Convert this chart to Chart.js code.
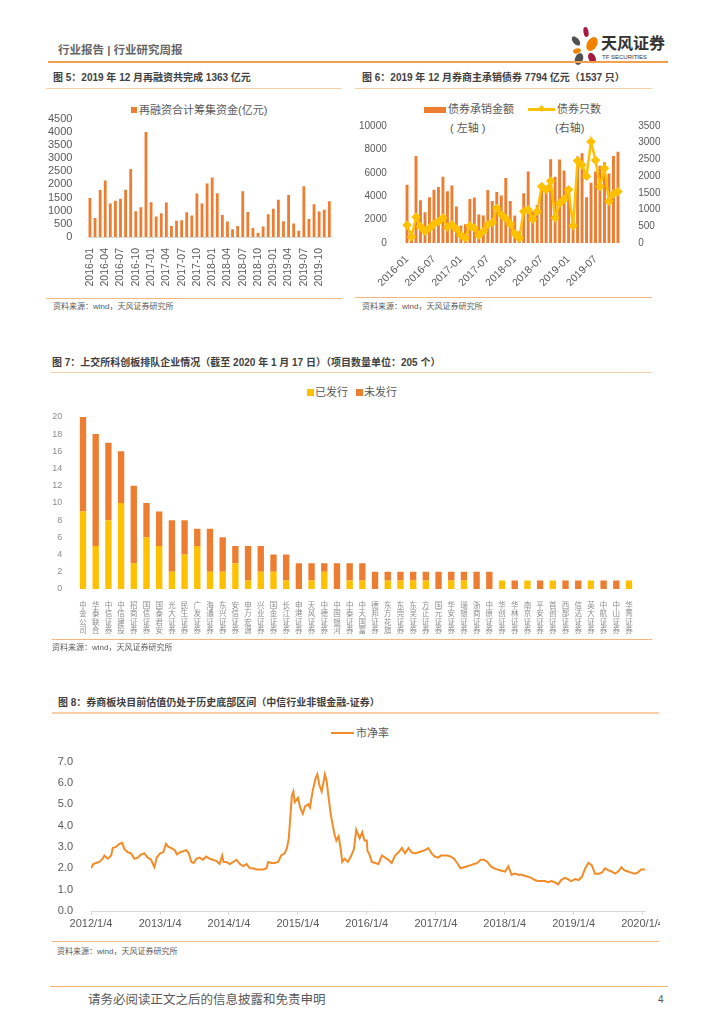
<!DOCTYPE html>
<html>
<head>
<meta charset="utf-8">
<script src="https://cdn.jsdelivr.net/npm/chart.js@4.4.1/dist/chart.umd.min.js"></script>
<style>
body { margin: 0; background: #fff; font-family: 'Liberation Sans', 'Noto Sans CJK SC', sans-serif; color: #595959; }
#page { position: relative; width: 724px; height: 1024px; overflow: hidden; }
.t { position: absolute; white-space: nowrap; }
.title { font-size: 10px; line-height: 10px; font-weight: bold; color: #404040; }
.src { font-size: 8px; line-height: 8px; color: #595959; }
.lg { font-size: 11px; line-height: 11px; color: #595959; }
.ul { position: absolute; height: 1.5px; background: #f9cfa8; }
.sl { position: absolute; height: 1px; background: #f6b67c; }
.box { position: absolute; }
.sq { position: absolute; }
</style>
</head>
<body>
<div id="page">

  <!-- page header -->
  <div class="t" style="left:58px;top:44px;font-size:11.5px;line-height:12px;font-weight:bold;color:#666">行业报告 | 行业研究周报</div>
  <svg style="position:absolute;left:568px;top:24px" width="34" height="42">
    <ellipse cx="18" cy="8" rx="2.5" ry="5" fill="#a7193f" transform="rotate(-10 18 8)"/>
    <ellipse cx="8" cy="17" rx="3" ry="5.5" fill="#505050" transform="rotate(-40 8 17)"/>
    <ellipse cx="24" cy="20" rx="5" ry="7.5" fill="#f08300" transform="rotate(30 24 20)"/>
    <ellipse cx="9" cy="27" rx="4" ry="2.5" fill="#f08300" transform="rotate(-15 9 27)"/>
    <ellipse cx="11" cy="35" rx="4" ry="6" fill="#505050" transform="rotate(20 11 35)"/>
    <ellipse cx="24" cy="34" rx="3.5" ry="5.5" fill="#a7193f" transform="rotate(-25 24 34)"/>
  </svg>
  <div class="t" style="left:601px;top:36px;font-size:16px;line-height:16px;font-weight:bold;color:#333">天风证券</div>
  <div class="t" style="left:602px;top:54px;font-size:6px;line-height:6px;color:#333">TF SECURITIES</div>
  <div class="box" style="left:48px;top:61px;width:620px;height:1.5px;background:#f2a04c"></div>

  <!-- figure 5 -->
  <div class="t title" style="left:53px;top:73px">图 5：2019 年 12 月再融资共完成 1363 亿元</div>
  <div class="ul" style="left:46px;top:87.5px;width:296px"></div>
  <div class="sq" style="left:131px;top:107px;width:6px;height:6px;background:#ed7d31"></div>
  <div class="t lg" style="left:139px;top:104.5px">再融资合计筹集资金(亿元)</div>
  <div class="box" style="left:40px;top:105px;width:305px;height:185px"><canvas id="c5"></canvas></div>
  <div class="sl" style="left:46px;top:297.5px;width:296px"></div>
  <div class="t src" style="left:53px;top:303px">资料来源：wind，天风证券研究所</div>

  <!-- figure 6 -->
  <div class="t title" style="left:362px;top:73px">图 6：2019 年 12 月券商主承销债券 7794 亿元（1537 只）</div>
  <div class="ul" style="left:355px;top:87.5px;width:297px"></div>
  <div class="sq" style="left:424px;top:107px;width:22px;height:5.5px;background:#ed7d31"></div>
  <div class="t lg" style="left:448px;top:103.5px">债券承销金额</div>
  <div class="t lg" style="left:450px;top:122.5px">( 左轴 )</div>
  <div class="sq" style="left:528px;top:108px;width:27px;height:2.5px;background:#ffc000"></div>
  <div class="sq" style="left:538.5px;top:106px;width:5px;height:5px;background:#ffc000;transform:rotate(45deg)"></div>
  <div class="t lg" style="left:557px;top:103.5px">债券只数</div>
  <div class="t lg" style="left:555px;top:122.5px">(右轴)</div>
  <div class="box" style="left:355px;top:110px;width:305px;height:180px"><canvas id="c6"></canvas></div>
  <div class="sl" style="left:355px;top:297px;width:297px"></div>
  <div class="t src" style="left:362px;top:303px">资料来源：wind，天风证券研究所</div>

  <!-- figure 7 -->
  <div class="t title" style="left:52px;top:358px">图 7：上交所科创板排队企业情况（截至 2020 年 1 月 17 日）（项目数量单位：205 个）</div>
  <div class="ul" style="left:50px;top:371.5px;width:602px"></div>
  <div class="sq" style="left:307px;top:389px;width:6.5px;height:6.5px;background:#ffc000"></div>
  <div class="t lg" style="left:315px;top:386.5px">已发行</div>
  <div class="sq" style="left:356px;top:389px;width:6.5px;height:6.5px;background:#ed7d31"></div>
  <div class="t lg" style="left:364px;top:386.5px">未发行</div>
  <div class="box" style="left:50px;top:405px;width:605px;height:235px"><canvas id="c7"></canvas></div>
  <div class="sl" style="left:52px;top:639px;width:600px"></div>
  <div class="t src" style="left:52px;top:644px">资料来源：wind，天风证券研究所</div>

  <!-- figure 8 -->
  <div class="t title" style="left:58px;top:698px">图 8：券商板块目前估值仍处于历史底部区间（中信行业非银金融-证券）</div>
  <div class="ul" style="left:52px;top:712px;width:607px"></div>
  <div class="sq" style="left:331px;top:732px;width:23px;height:2px;background:#f28c28"></div>
  <div class="t lg" style="left:356px;top:727.5px">市净率</div>
  <div class="box" style="left:40px;top:745px;width:620px;height:195px"><canvas id="c8"></canvas></div>
  <div class="sl" style="left:52px;top:941px;width:607px"></div>
  <div class="t src" style="left:57px;top:948px">资料来源：wind，天风证券研究所</div>

  <!-- footer -->
  <div class="sl" style="left:50px;top:986px;width:618px;background:#f5b070"></div>
  <div class="t" style="left:88px;top:994px;font-size:12.5px;line-height:13px;color:#595959">请务必阅读正文之后的信息披露和免责申明</div>
  <div class="t" style="left:658px;top:995px;font-size:10px;line-height:10px;color:#595959">4</div>
</div>

<script>
// ---- data ----
// fig 5: monthly refinancing amount (亿元), 2016-01 .. 2019-12
var refiMonths = [];
for (var y = 2016; y <= 2019; y++) {
  for (var m = 1; m <= 12; m++) refiMonths.push(y + '-' + (m < 10 ? '0' + m : m));
}
var refiAmount = [1480, 720, 1790, 2150, 1270, 1380, 1450, 1800, 2580, 980, 1130, 3990,
                  1320, 780, 900, 1310, 420, 620, 640, 940, 820, 1650, 1270, 2030,
                  2260, 1660, 840, 590, 290, 420, 1740, 950, 340, 160, 400, 860,
                  1070, 1420, 600, 1600, 510, 240, 1930, 680, 1240, 970, 1040, 1363];

// fig 6: broker bond underwriting, amount (亿元, left) and count (只, right)
var bondMonths = refiMonths.slice();
var bondAmount = [4970, 1000, 7430, 3660, 2620, 3900, 4560, 4780, 5660, 4430, 4920, 3110,
                  1500, 1600, 3770, 3880, 2430, 2350, 4540, 3600, 4350, 4070, 5550, 3580,
                  2350, 1000, 4260, 6120, 2700, 3250, 4500, 4400, 7160, 5660, 7130, 6200,
                  4700, 2000, 7400, 7680, 3900, 5160, 6120, 6600, 6900, 5950, 7430, 7794];
var bondCount = [535, 180, 775, 490, 355, 450, 565, 640, 755, 470, 545, 420,
                 230, 150, 515, 450, 230, 355, 545, 610, 1040, 850, 735, 565,
                 280, 150, 945, 995, 710, 945, 1690, 1590, 1855, 755, 1185, 1310,
                 1590, 515, 2457, 2333, 2000, 3030, 2476, 1690, 2237, 1252, 1470, 1537];

// fig 7: STAR market queue by sponsor
var brokers = ['中金公司', '华泰联合', '中信证券', '中信建投', '招商证券', '国信证券', '国泰君安', '光大证券',
               '民生证券', '广发证券', '海通证券', '东兴证券', '安信证券', '申万宏源', '兴业证券', '国金证券',
               '长江证券', '申港证券', '天风证券', '中德证券', '中国银河', '中泰证券', '中天国富', '德邦证券',
               '东方花旗', '东莞证券', '东吴证券', '方正证券', '国元证券', '华安证券', '瑞银证券', '浙商证券',
               '中原证券', '华创证券', '华林证券', '南京证券', '平安证券', '首创证券', '西部证券', '信达证券',
               '英大证券', '中航证券', '中山证券', '华菁证券'];
var issued   = [9, 5, 8, 10, 3, 6, 5, 2, 4, 5, 2, 2, 3, 1, 2, 2, 1, 0, 1, 2, 0, 1,
                1, 0, 1, 1, 1, 1, 0, 1, 1, 0, 0, 1, 0, 1, 0, 1, 0, 0, 1, 0, 0, 1];
var unissued = [11, 13, 9, 6, 9, 4, 4, 6, 4, 2, 5, 4, 2, 4, 3, 2, 3, 3, 2, 1, 3, 2,
                2, 2, 1, 1, 1, 1, 2, 1, 1, 2, 2, 0, 1, 0, 1, 0, 1, 1, 0, 1, 1, 0];

// fig 8: securities sector P/B
var pbDates = [
  '2012-01-04','2012-01-16','2012-01-31','2012-02-17','2012-03-06','2012-03-15','2012-04-02','2012-04-20',
  '2012-04-28','2012-05-16','2012-06-02','2012-06-17','2012-06-29','2012-07-17','2012-08-03','2012-08-21',
  '2012-09-08','2012-09-25','2012-10-13','2012-10-31','2012-11-17','2012-12-05','2012-12-17','2013-01-04',
  '2013-01-21','2013-02-04','2013-02-17','2013-03-05','2013-03-23','2013-04-04','2013-04-18','2013-05-06',
  '2013-05-23','2013-06-05','2013-06-19','2013-07-01','2013-07-15','2013-08-01','2013-08-19','2013-09-05',
  '2013-09-23','2013-10-10','2013-10-28','2013-11-15','2013-11-29','2013-12-06','2013-12-20','2014-01-09',
  '2014-01-27','2014-02-13','2014-03-03','2014-03-20','2014-04-07','2014-04-25','2014-05-12','2014-05-30',
  '2014-06-16','2014-07-04','2014-07-22','2014-07-30','2014-08-17','2014-09-03','2014-09-21','2014-10-08',
  '2014-10-26','2014-11-07','2014-11-17','2014-11-24','2014-12-03','2014-12-11','2014-12-18','2015-01-05',
  '2015-01-16','2015-01-30','2015-02-11','2015-03-01','2015-03-09','2015-03-23','2015-04-07','2015-04-17',
  '2015-04-28','2015-05-10','2015-05-19','2015-05-27','2015-06-05','2015-06-16','2015-06-26','2015-07-06',
  '2015-07-17','2015-07-27','2015-08-08','2015-08-19','2015-08-27','2015-09-09','2015-09-26','2015-10-14',
  '2015-10-28','2015-11-09','2015-11-27','2015-12-11','2015-12-23','2016-01-04','2016-01-08','2016-01-16',
  '2016-01-31','2016-02-17','2016-03-06','2016-03-24','2016-04-10','2016-04-27','2016-05-15','2016-06-02',
  '2016-06-20','2016-07-08','2016-07-25','2016-08-12','2016-08-29','2016-09-16','2016-10-04','2016-10-21',
  '2016-11-08','2016-11-25','2016-12-13','2016-12-29','2017-01-16','2017-01-31','2017-02-17','2017-03-06',
  '2017-03-24','2017-04-10','2017-04-27','2017-05-15','2017-06-02','2017-06-20','2017-07-08','2017-07-25',
  '2017-08-12','2017-08-29','2017-09-16','2017-10-04','2017-10-21','2017-11-08','2017-11-25','2017-12-13',
  '2018-01-06','2018-01-23','2018-02-09','2018-02-27','2018-03-16','2018-04-02','2018-04-20','2018-05-08',
  '2018-05-25','2018-06-12','2018-06-30','2018-07-17','2018-08-04','2018-08-21','2018-09-08','2018-09-26',
  '2018-10-13','2018-10-30','2018-11-17','2018-12-03','2018-12-21','2019-01-13','2019-01-30','2019-02-17',
  '2019-03-06','2019-03-23','2019-04-10','2019-04-27','2019-05-15','2019-06-02','2019-06-19','2019-07-07',
  '2019-07-24','2019-08-11','2019-08-28','2019-09-14','2019-10-01','2019-10-18','2019-11-05','2019-11-22',
  '2019-12-10','2019-12-28','2020-01-17'];
var pbValues = [
  2.0, 2.2, 2.25, 2.3, 2.45, 2.6, 2.45, 2.6,
  2.95, 3.0, 3.15, 3.2, 2.9, 2.75, 2.7, 2.45,
  2.5, 2.65, 2.7, 2.5, 2.4, 2.05, 2.5, 2.7,
  2.75, 3.15, 3.0, 2.95, 2.85, 2.65, 2.75, 2.8,
  2.85, 2.7, 2.3, 2.25, 2.45, 2.5, 2.4, 2.55,
  2.45, 2.4, 2.35, 2.2, 2.6, 2.3, 2.3, 2.2,
  2.3, 2.4, 2.2, 2.1, 2.2, 2.0, 2.0, 1.95,
  1.95, 1.95, 2.0, 2.3, 2.25, 2.25, 2.3, 2.6,
  2.7, 2.95, 3.4, 4.3, 5.4, 5.6, 5.1, 5.3,
  4.85, 4.55, 4.9, 5.0, 4.85, 5.6, 6.2, 6.4,
  5.9, 5.6, 6.0, 6.4, 6.1, 5.3, 4.6, 4.1,
  3.6, 3.3, 3.5, 2.9, 2.3, 2.45, 2.3, 2.6,
  2.9, 3.8, 3.4, 3.7, 3.3, 3.3, 2.8, 2.7,
  2.3, 2.25, 2.2, 2.6, 2.5, 2.4, 2.25, 2.6,
  2.75, 2.95, 2.7, 2.95, 2.75, 2.7, 2.75, 2.8,
  2.85, 2.95, 2.7, 2.55, 2.5, 2.6, 2.6, 2.6,
  2.55, 2.45, 2.25, 2.0, 2.05, 2.1, 2.15, 2.2,
  2.25, 2.4, 2.4, 2.3, 2.1, 2.0, 1.95, 1.9,
  1.85, 2.1, 1.7, 1.75, 1.7, 1.7, 1.65, 1.6,
  1.55, 1.45, 1.4, 1.4, 1.4, 1.35, 1.4, 1.35,
  1.25, 1.45, 1.55, 1.5, 1.4, 1.5, 1.45, 1.6,
  2.0, 2.25, 2.15, 1.75, 1.75, 1.8, 2.0, 1.9,
  1.85, 1.75, 1.85, 2.05, 1.9, 1.85, 1.8, 1.75,
  1.8, 1.95, 1.95];
var pbYears = [2012, 2013, 2014, 2015, 2016, 2017, 2018, 2019, 2020];

// ---- charts ----
Chart.defaults.font.family = "'Liberation Sans', 'Noto Sans CJK SC', sans-serif";
Chart.defaults.color = '#595959';
Chart.defaults.animation = false;
Chart.defaults.maintainAspectRatio = false;
Chart.defaults.plugins.legend.display = false;
Chart.defaults.plugins.tooltip.enabled = false;

function plain(v) { return String(v); }

new Chart(document.getElementById('c5'), {
  type: 'bar',
  data: {
    labels: refiMonths,
    datasets: [{
      label: '再融资合计筹集资金(亿元)',
      data: refiAmount,
      backgroundColor: '#ed7d31',
      barPercentage: 0.55,
      categoryPercentage: 1
    }]
  },
  options: {
    layout: { padding: { top: 12, right: 7.4, left: 0, bottom: 0 } },
    scales: {
      x: {
        afterFit: function (s) { s.height = 53; },
        grid: { display: false },
        border: { color: '#d9d9d9' },
        ticks: {
          autoSkip: false, minRotation: 90, maxRotation: 90, padding: 3,
          font: { size: 10.5 },
          callback: function (v, i) { return i % 3 === 0 ? refiMonths[i] : ''; }
        }
      },
      y: {
        min: 0, max: 4500,
        afterFit: function (s) { s.width = 47.4; },
        grid: { display: false },
        border: { display: false },
        ticks: { stepSize: 500, autoSkip: false, padding: 7, font: { size: 11 }, callback: plain }
      }
    }
  }
});

new Chart(document.getElementById('c6'), {
  type: 'bar',
  data: {
    labels: bondMonths,
    datasets: [
      {
        type: 'line',
        label: '债券只数',
        data: bondCount,
        yAxisID: 'y1',
        order: 0,
        borderColor: '#ffc000',
        backgroundColor: '#ffc000',
        borderWidth: 2.5,
        pointStyle: 'rectRot',
        pointRadius: 3,
        tension: 0
      },
      {
        label: '债券承销金额',
        data: bondAmount,
        yAxisID: 'y',
        order: 1,
        backgroundColor: '#ed7d31',
        barPercentage: 0.65,
        categoryPercentage: 1
      }
    ]
  },
  options: {
    layout: { padding: { top: 11, right: 0, left: 0, bottom: 0 } },
    scales: {
      x: {
        afterFit: function (s) { s.height = 47; },
        grid: { display: false },
        border: { display: false },
        ticks: {
          autoSkip: false, minRotation: 45, maxRotation: 45, padding: 2,
          font: { size: 10.5 },
          callback: function (v, i) { return i % 6 === 0 ? bondMonths[i] : ''; }
        }
      },
      y: {
        position: 'left', min: 0, max: 10000,
        afterFit: function (s) { s.width = 49.8; },
        grid: { display: false },
        border: { display: false },
        ticks: { stepSize: 2000, autoSkip: false, padding: 10, font: { size: 10 }, callback: plain }
      },
      y1: {
        position: 'right', min: 0, max: 3500,
        afterFit: function (s) { s.width = 39.8; },
        grid: { display: false },
        border: { display: false },
        ticks: { stepSize: 500, autoSkip: false, padding: 10, font: { size: 10 }, callback: plain }
      }
    }
  }
});

new Chart(document.getElementById('c7'), {
  type: 'bar',
  data: {
    labels: brokers.map(function (n) { return n.split(''); }),
    datasets: [
      { label: '已发行', data: issued, backgroundColor: '#ffc000', barPercentage: 0.5, categoryPercentage: 1 },
      { label: '未发行', data: unissued, backgroundColor: '#ed7d31', barPercentage: 0.5, categoryPercentage: 1 }
    ]
  },
  options: {
    layout: { padding: { top: 11, right: 19.65, left: 0, bottom: 0 } },
    scales: {
      x: {
        stacked: true,
        afterFit: function (s) { s.height = 51; },
        grid: { display: false },
        border: { display: false },
        ticks: {
          autoSkip: false, minRotation: 0, maxRotation: 0, padding: 5,
          color: '#8c8c8c',
          font: { size: 7.5, lineHeight: 1.1 }
        }
      },
      y: {
        stacked: true, min: 0, max: 20,
        afterFit: function (s) { s.width = 26.65; },
        grid: { display: false },
        border: { display: false },
        ticks: { stepSize: 2, autoSkip: false, padding: 6.5, color: '#8c8c8c', font: { size: 9 } }
      }
    }
  }
});

new Chart(document.getElementById('c8'), {
  type: 'line',
  data: {
    datasets: [{
      label: '市净率',
      data: pbDates.map(function (d, i) { return { x: Date.parse(d), y: pbValues[i] }; }),
      borderColor: '#f28c28',
      borderWidth: 2,
      pointRadius: 0,
      tension: 0
    }]
  },
  options: {
    layout: { padding: { top: 12, right: 15, left: 0, bottom: 0 } },
    scales: {
      x: {
        type: 'linear',
        min: Date.UTC(2012, 0, 4),
        max: Date.UTC(2020, 0, 17),
        afterBuildTicks: function (s) {
          s.ticks = pbYears.map(function (y) { return { value: Date.UTC(y, 0, 4) }; });
        },
        afterFit: function (s) { s.height = 29; s.paddingRight = 0; s.paddingLeft = 0; },
        grid: { display: true, drawOnChartArea: false, drawTicks: true, tickLength: 4, color: '#d9d9d9' },
        border: { color: '#d9d9d9' },
        ticks: {
          padding: 2,
          font: { size: 11 },
          callback: function (v) { return new Date(v).getUTCFullYear() + '/1/4'; }
        }
      },
      y: {
        min: 0, max: 7,
        afterFit: function (s) { s.width = 51; },
        grid: { display: false },
        border: { display: false },
        ticks: {
          stepSize: 1, padding: 10, font: { size: 11 },
          callback: function (v) { return v.toFixed(1); }
        }
      }
    }
  }
});
</script>
</body>
</html>
